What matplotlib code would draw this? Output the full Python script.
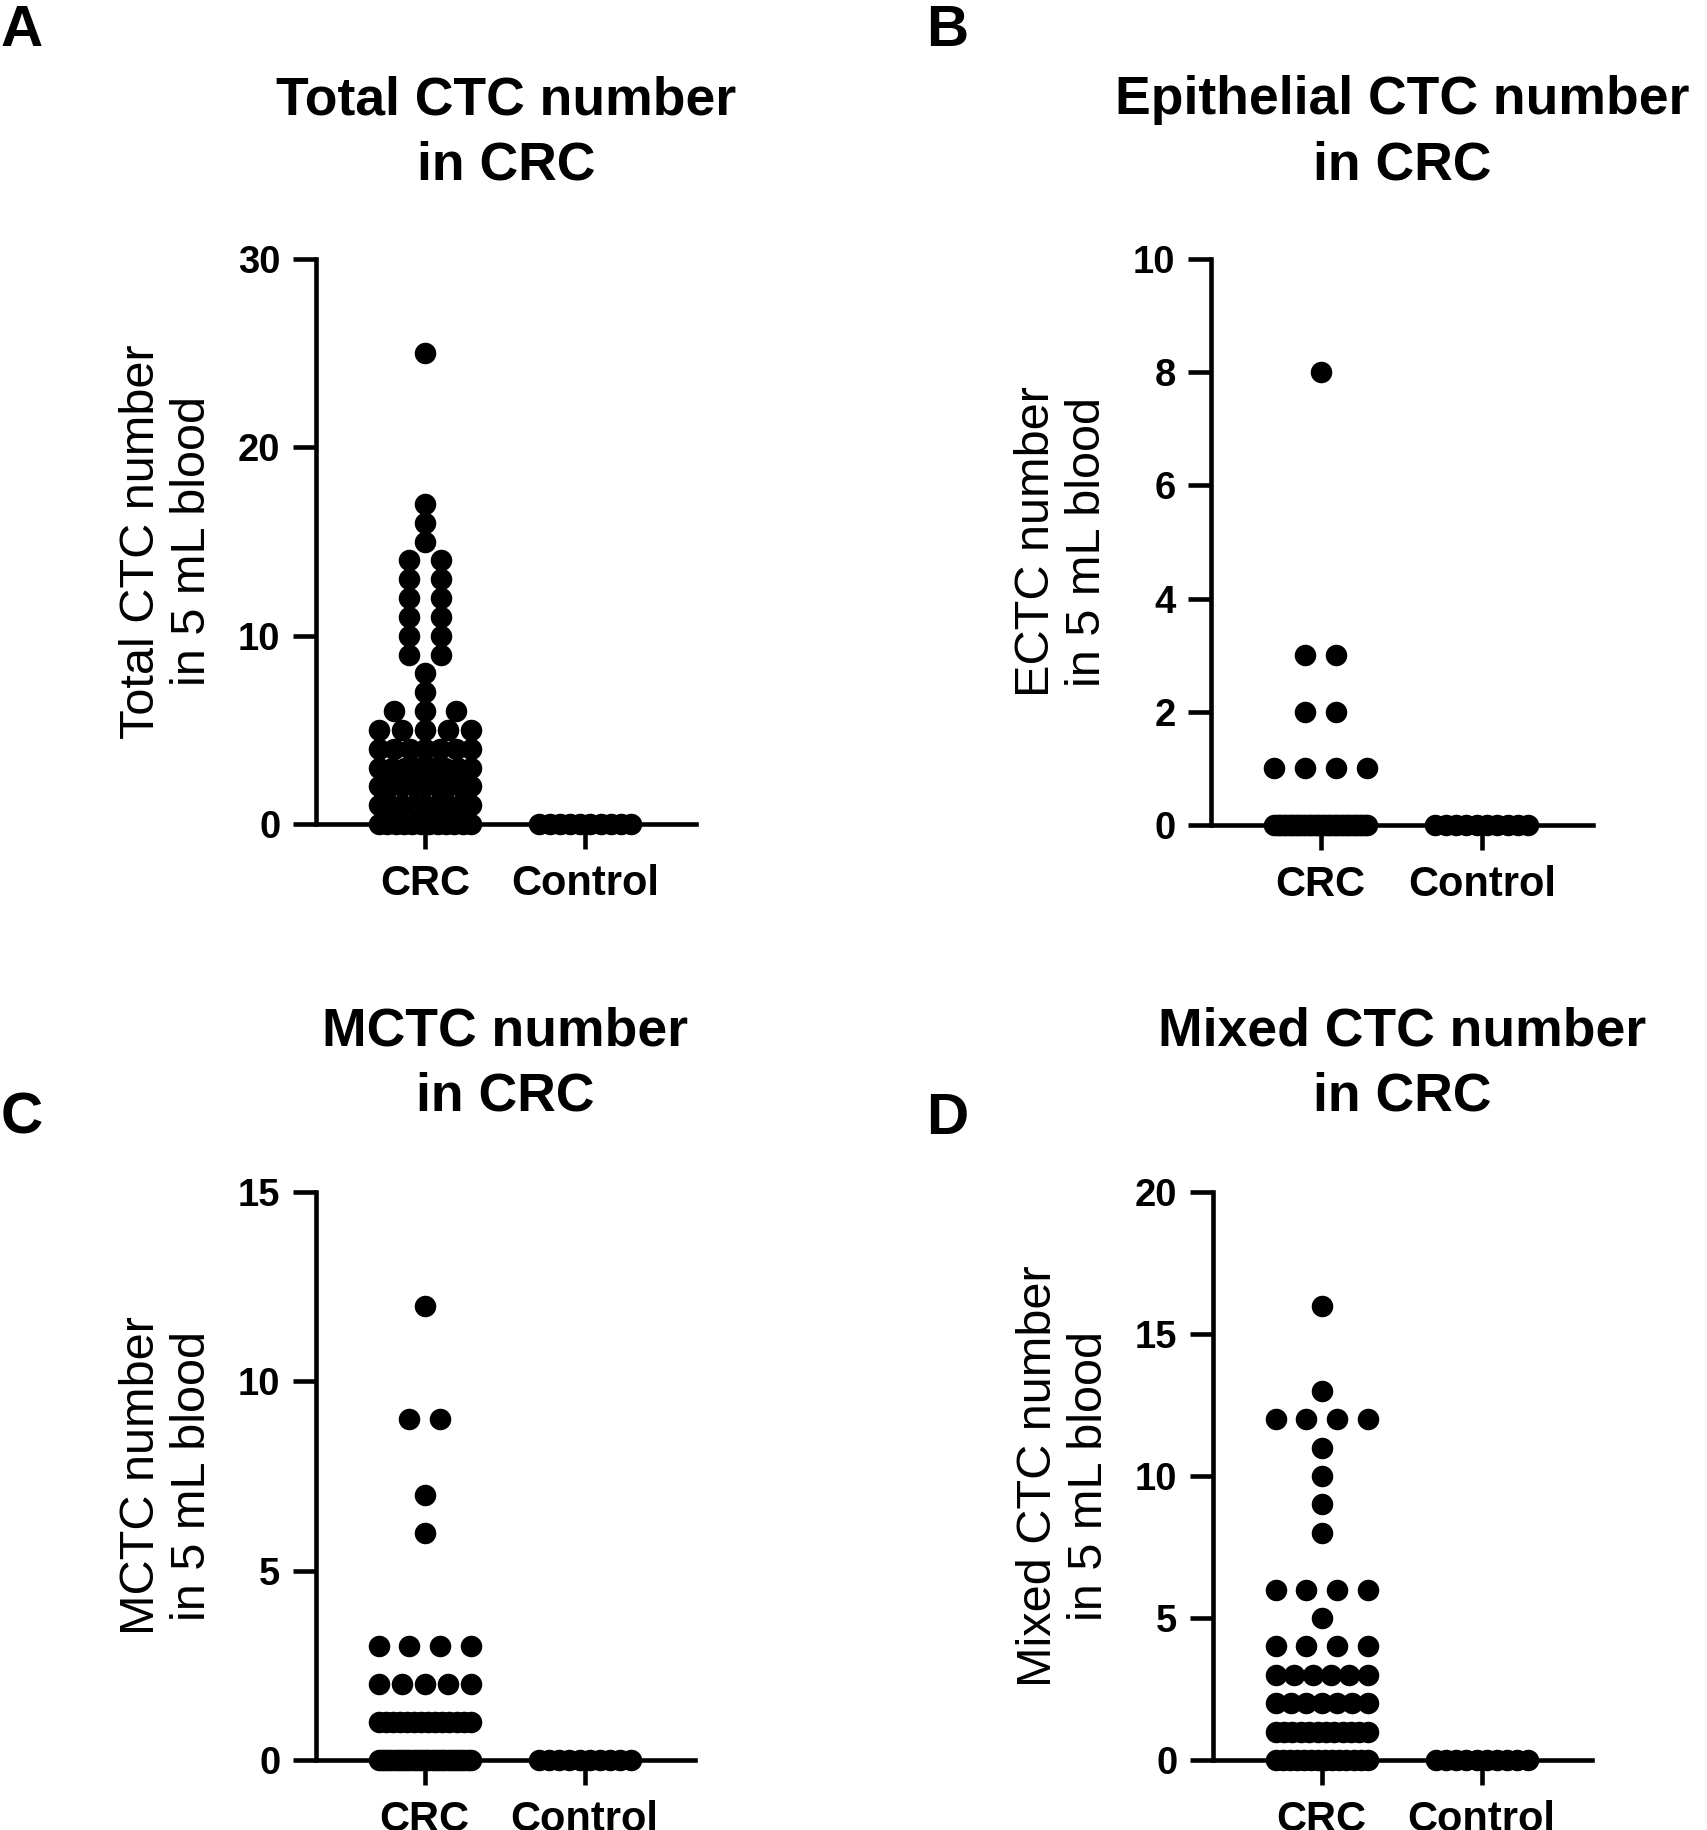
import numpy as np
import matplotlib
matplotlib.use('Agg')
import matplotlib.pyplot as plt

plt.rcParams['font.family'] = ['Liberation Sans', 'DejaVu Sans']

groups = ['CRC', 'Control']

# CTC counts per patient, written as (value, how many patients)
total_vals = [0, 1, 2, 3, 4, 5, 6, 7, 8, 9, 10, 11, 12, 13, 14, 15, 16, 17, 25]
total_counts = [12, 9, 9, 8, 7, 5, 3, 1, 1, 2, 2, 2, 2, 2, 2, 1, 1, 1, 1]

ectc_vals = [0, 1, 2, 3, 8]
ectc_counts = [40, 4, 2, 2, 1]

mctc_vals = [0, 1, 2, 3, 6, 7, 9, 12]
mctc_counts = [30, 14, 5, 4, 1, 1, 2, 1]

mixed_vals = [0, 1, 2, 3, 4, 5, 6, 8, 9, 10, 11, 12, 13, 16]
mixed_counts = [14, 12, 7, 6, 4, 1, 4, 1, 1, 1, 1, 4, 1, 1]

control_n = 10  # all controls are 0

panels = [
    ('A', 'Total CTC number\nin CRC', 'Total CTC number\nin 5 mL blood',
     total_vals, total_counts, 30, [0, 10, 20, 30]),
    ('B', 'Epithelial CTC number\nin CRC', 'ECTC number\nin 5 mL blood',
     ectc_vals, ectc_counts, 10, [0, 2, 4, 6, 8, 10]),
    ('C', 'MCTC number\nin CRC', 'MCTC number\nin 5 mL blood',
     mctc_vals, mctc_counts, 15, [0, 5, 10, 15]),
    ('D', 'Mixed CTC number\nin CRC', 'Mixed CTC number\nin 5 mL blood',
     mixed_vals, mixed_counts, 20, [0, 5, 10, 15, 20]),
]

W, H = 1708, 1830
fig = plt.figure(figsize=(W / 100, H / 100), dpi=100)

# axes boxes in pixels: left, top, right, bottom
boxes = [(316, 259, 696, 824), (1211, 259, 1593, 825),
         (316, 1192, 695, 1760), (1213, 1192, 1592, 1760)]
letter_pos = [(1, 4), (926, 4), (1, 1092), (926, 1092)]
title_y = [133, 133, 1064, 1064]


def spread(center, n, step=0.194, max_width=0.575):
    # column scatter: dots side by side, squeezed when the row gets too wide
    if n == 1:
        return np.array([center])
    s = min(step, max_width / (n - 1))
    return center + (np.arange(n) - (n - 1) / 2) * s


for (letter, title, ylab, vals, counts, ymax, yticks), box, lp, ty in zip(
        panels, boxes, letter_pos, title_y):
    l, t, r, b = box
    ax = fig.add_axes([l / W, 1 - b / H, (r - l) / W, (b - t) / H])

    xs, ys = [], []
    for v, c in zip(vals, counts):
        xs.extend(spread(1, c))
        ys.extend([v] * c)
    xs.extend(spread(2, control_n))
    ys.extend([0] * control_n)
    ax.plot(xs, ys, 'o', color='black', markersize=15.5, markeredgewidth=0,
            clip_on=False, zorder=3)

    ax.set_xlim(0.32, 2.69)
    ax.set_ylim(0, ymax)
    ax.set_xticks([1, 2])
    ax.set_xticklabels(groups)
    ax.set_yticks(yticks)
    for sp in ['top', 'right']:
        ax.spines[sp].set_visible(False)
    for sp in ['left', 'bottom']:
        ax.spines[sp].set_linewidth(3.3)
    ax.tick_params(axis='y', length=16.5, width=3.3, pad=9, labelsize=27.5)
    ax.tick_params(axis='x', length=18, width=3.3, pad=11, labelsize=30)
    for lab in ax.get_xticklabels() + ax.get_yticklabels():
        lab.set_fontweight('bold')

    cx = (l + r) / 2 / W
    fig.text(cx, 1 - ty / H, title, ha='center', va='center',
             fontsize=38.5, fontweight='bold', linespacing=1.4)
    fig.text((l - 149) / W, 1 - (t + b) / 2 / H, ylab, rotation=90,
             ha='center', va='center', fontsize=35, linespacing=1.15)
    fig.text(lp[0] / W, 1 - lp[1] / H, letter, ha='left', va='top',
             fontsize=42, fontweight='bold')

fig.savefig('out.png', dpi=100)
